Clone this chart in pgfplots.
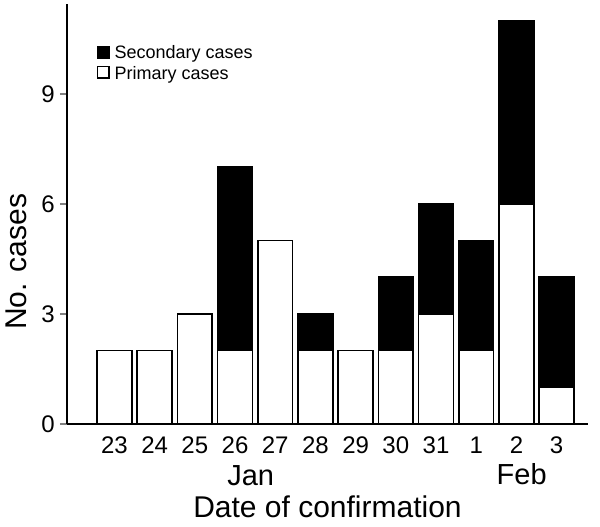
\documentclass[border=0pt]{standalone}
\usepackage{fontspec}
\setmainfont{Liberation Sans}
\usepackage{pgfplots}
\pgfplotsset{compat=1.18}
\pgfplotstableread{
x prim sec
0 2 0
1 2 0
2 3 0
3 2 5
4 5 0
5 2 1
6 2 0
7 2 2
8 3 3
9 2 3
10 6 5
11 1 3
}\cases
\begin{document}
\begin{tikzpicture}
\begin{axis}[
  name=ax,
  scale only axis,
  width=521pt, height=420pt,
  xmin=-1.18, xmax=11.78,
  ymin=0, ymax=11.45,
  ybar stacked,
  bar width=0.865,
  axis x line*=bottom, axis y line*=left,
  axis line style={-, line width=1.6pt},
  xtick={0,...,11},
  xticklabels={23,24,25,26,27,28,29,30,31,1,2,3},
  xtick style={draw=none},
  ytick={0,3,6,9},
  ytick style={line width=1.6pt},
  tick align=outside,
  major tick length=7pt,
  /pgf/number format/assume math mode=true,
  tick label style={font=\fontsize{24}{28}\selectfont},
  xticklabel style={inner sep=0pt, anchor=north, yshift=-6pt},
  yticklabel style={inner sep=0pt, anchor=east, xshift=-5pt},
  xlabel={Date of confirmation},
  xlabel style={font=\fontsize{30}{34}\selectfont, at={(axis description cs:0.5,0)}, anchor=base, yshift=-94pt},
  ylabel={No. cases},
  ylabel style={font=\fontsize{30}{34}\selectfont, at={(axis description cs:-0.0774,0.386)}, anchor=base},
  reverse legend,
  legend cell align=left,
  legend style={draw=none, fill=none, at={(axis description cs:0.057,0.903)}, anchor=north west,
    font=\fontsize{18}{21}\selectfont, inner sep=0pt, row sep=5pt,
    nodes={inner sep=1pt, text depth=0pt}},
  clip=false,
]
\addplot[draw=black, fill=white, line width=1.6pt,
  legend image code/.code={\draw[draw=black, fill=white, line width=1.3pt] (0.6pt,-5.6pt) rectangle (12pt,5.8pt);}]
  table[x=x, y=prim] {\cases};
\addplot[draw=black, fill=black, line width=1.6pt,
  legend image code/.code={\draw[draw=black, fill=black, line width=1.3pt] (0.6pt,-5.6pt) rectangle (12pt,5.8pt);}]
  table[x=x, y=sec] {\cases};
\legend{\hspace{4pt}Primary cases, \hspace{4pt}Secondary cases}
\node[font=\fontsize{29}{33}\selectfont, anchor=base] at (axis cs:3.39,0) [yshift=-62pt] {Jan};
\node[font=\fontsize{29}{33}\selectfont, anchor=base] at (axis cs:10.13,0) [yshift=-61pt] {Feb};
\end{axis}
\path (ax.south west) ++(-67pt,-103pt) rectangle ++(600pt,527pt);
\end{tikzpicture}
\end{document}
